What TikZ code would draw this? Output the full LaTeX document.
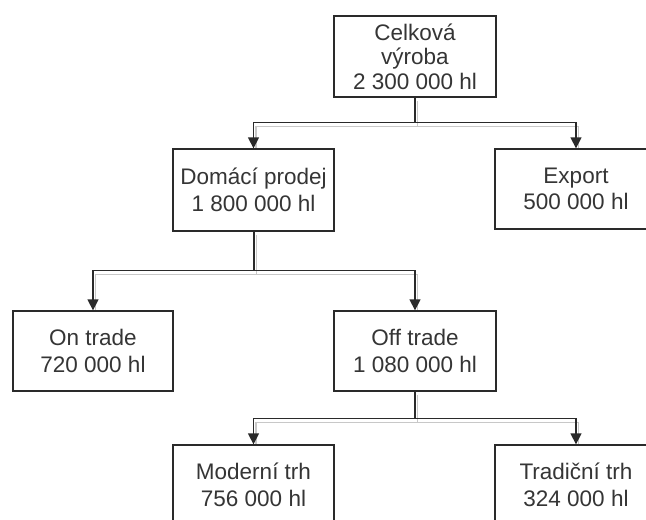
\documentclass[tikz,border=0pt]{standalone}
\usepackage{fontspec}
\setmainfont{Liberation Sans}
\usetikzlibrary{arrows.meta,calc}
\definecolor{ink}{HTML}{2A2A2A}
\definecolor{txt}{HTML}{353535}
\definecolor{shade}{HTML}{C8C8C8}
\begin{document}
\begin{tikzpicture}[x=1pt,y=1pt,
  box/.style={draw=ink, line width=1.3pt, fill=white, inner sep=0pt, align=center,
    text=txt, font=\fontsize{22.5}{26.5}\selectfont},
  tallbox/.style={box, font=\fontsize{22.5}{24.5}\selectfont},
  link/.style={draw=ink, line width=1.3pt, -{Triangle[width=11pt,length=11pt]}},
  echo/.style={draw=shade, line width=1.2pt, shorten >=4pt,
    transform canvas={shift={(2.5pt,-3.5pt)}}}]
\useasboundingbox (0,0) rectangle (646,-520);
\clip (0,0) rectangle (646,-520);

% boxes
\node[tallbox, minimum width=162pt, minimum height=81pt] (total) at (415,-56.5) {Celková\\výroba\\2 300 000 hl};
\node[box, minimum width=161pt, minimum height=82pt] (home)   at (253.5,-190) {Domácí prodej\\1 800 000 hl};
\node[box, minimum width=162pt, minimum height=80pt] (export) at (576,-189)   {Export\\500 000 hl};
\node[box, minimum width=160pt, minimum height=80pt] (on)     at (93,-351)    {On trade\\720 000 hl};
\node[box, minimum width=162pt, minimum height=80pt] (off)    at (415,-351)   {Off trade\\1 080 000 hl};
\node[box, minimum width=161pt, minimum height=80pt] (modern) at (253.5,-485) {Moderní trh\\756 000 hl};
\node[box, minimum width=162pt, minimum height=80pt] (trad)   at (576,-485)   {Tradiční trh\\324 000 hl};

% branching points
\coordinate (s1) at ($(total.south)+(0,-25)$);
\coordinate (s2) at ($(home.south)+(0.5,-39)$);
\coordinate (s3) at ($(off.south)+(0,-27)$);

% light echo lines beneath the connectors
\draw[echo] (total.south) -- (s1) -| (home);
\draw[echo] (total.south) -- (s1) -| (export);
\draw[echo] ($(home.south)+(0.5,0)$) -- (s2) -| (on);
\draw[echo] ($(home.south)+(0.5,0)$) -- (s2) -| (off);
\draw[echo] (off.south) -- (s3) -| (modern);
\draw[echo] (off.south) -- (s3) -| (trad);

% connectors
\draw[link] (total.south) -- (s1) -| (home);
\draw[link] (total.south) -- (s1) -| (export);
\draw[link] ($(home.south)+(0.5,0)$) -- (s2) -| (on);
\draw[link] ($(home.south)+(0.5,0)$) -- (s2) -| (off);
\draw[link] (off.south) -- (s3) -| (modern);
\draw[link] (off.south) -- (s3) -| (trad);
\end{tikzpicture}
\end{document}
